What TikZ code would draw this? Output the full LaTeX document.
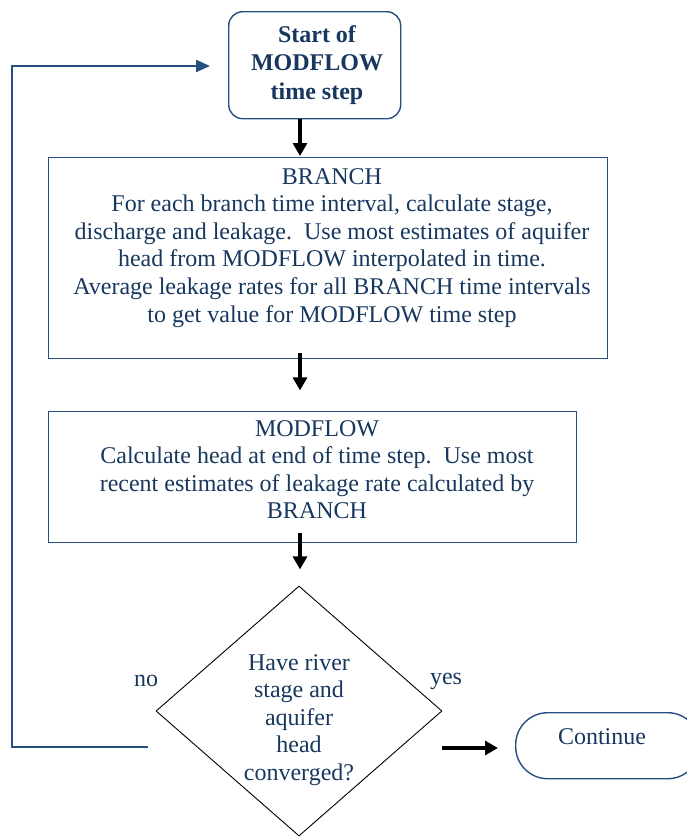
\documentclass[tikz,border=0pt]{standalone}
\usepackage{fontspec}
\setmainfont{Liberation Serif}
\usetikzlibrary{arrows.meta,shapes.geometric,calc}
\definecolor{navytext}{RGB}{23,55,94}
\definecolor{navyline}{RGB}{37,79,128}
\begin{document}
\begin{tikzpicture}[x=1pt,y=-1pt,
  txt/.style={text=navytext,align=center,inner sep=0pt,
    font=\fontsize{24}{27.6}\selectfont},
  boxshape/.style={draw=navyline,line width=1.4pt,inner sep=0pt},
  blackarr/.style={draw=black,line width=3.2pt,-{Triangle[length=13pt,width=14pt]}},
  fbarr/.style={draw=navyline,line width=2.2pt,-{Triangle[length=14pt,width=12pt]}}]
\useasboundingbox (0,0) rectangle (687,838);
% start box
\node[boxshape,rounded corners=14pt,minimum width=172pt,minimum height=107pt,anchor=north west] (start) at (228,11) {};
\node[txt,font=\fontsize{24}{28.5}\selectfont\bfseries,anchor=north] (starttxt) at (317,25) {Start of\\MODFLOW\\time step};
% branch box
\node[boxshape,minimum width=559pt,minimum height=201pt,anchor=north west] (branch) at (48,157) {};
\node[txt,anchor=north] (branchtxt) at (332,168) {BRANCH\\For each branch time interval, calculate stage,\\discharge and leakage.\ \ Use most estimates of aquifer\\head from MODFLOW interpolated in time.\\Average leakage rates for all BRANCH time intervals\\to get value for MODFLOW time step};
% modflow box
\node[boxshape,minimum width=528pt,minimum height=131pt,anchor=north west] (mod) at (48,411) {};
\node[txt,anchor=north] (modtxt) at (317,420) {MODFLOW\\Calculate head at end of time step.\ \ Use most\\recent estimates of leakage rate calculated by\\BRANCH};
% decision
\node[draw=black,line width=0.9pt,diamond,minimum width=286pt,minimum height=250pt,inner sep=0pt] (dec) at (299,711) {};
\node[txt,anchor=north] (dectxt) at (299,654) {Have river\\stage and\\aquifer\\head\\converged?};
% continue
\node[boxshape,rounded corners=32pt,minimum width=184pt,minimum height=66pt,anchor=north west] (cont) at (515,712) {};
\node[txt,anchor=center] (conttxt) at (602,737) {Continue};
% labels
\node[txt,anchor=center] (nolab) at (146,681) {no};
\node[txt,anchor=center] (yeslab) at (446,681) {yes};
% connectors
\coordinate (ax) at (300,0);
\draw[blackarr] (ax |- start.south) -- ($(ax |- branch.north)+(0,-1)$);
\draw[blackarr] ($(ax |- branch.south)+(0,-6)$) -- ($(ax |- branch.south)+(0,31)$);
\draw[blackarr] ($(ax |- mod.south)+(0,-10)$) -- ($(ax |- mod.south)+(0,26)$);
\coordinate (nofrom) at (148,747);
\coordinate (loopx) at (12,0);
\draw[fbarr] (nofrom) -- (loopx |- nofrom) -- (loopx |- 0,66) -- ([xshift=-18pt]start.west |- 0,66);
\coordinate (yesfrom) at (442,748);
\draw[blackarr] (yesfrom) -- ($(cont.west |- yesfrom)+(-17,0)$);
\end{tikzpicture}
\end{document}
